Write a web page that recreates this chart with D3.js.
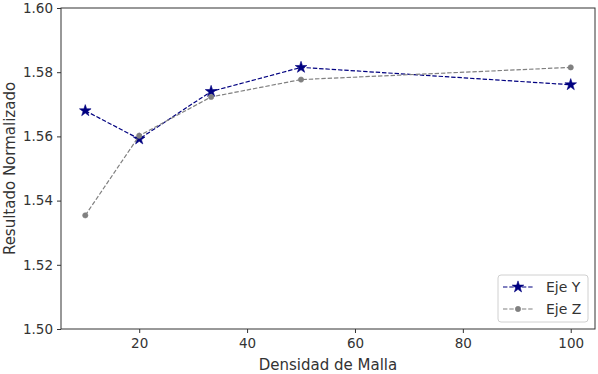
<!DOCTYPE html>
<html><head><meta charset="utf-8">
<script src="https://cdn.jsdelivr.net/npm/d3@7"></script>
<style>body{margin:0;background:#fff}svg{display:block;font-family:"DejaVu Sans",sans-serif}</style>
</head><body>
<svg id="c" width="598" height="374"></svg>
<script>
const densidad = [10, 20, 33.33, 50, 100];
const ejeY = [1.5680, 1.5592, 1.5740, 1.5815, 1.5761];
const ejeZ = [1.5354, 1.5602, 1.5723, 1.5777, 1.5815];
const xTicks = [20, 40, 60, 80, 100];
const yTicks = [1.50, 1.52, 1.54, 1.56, 1.58, 1.60];
const series = [
  {name: "Eje Y", values: ejeY, color: "#000080", marker: "star"},
  {name: "Eje Z", values: ejeZ, color: "#808080", marker: "circle"}
];

const svg = d3.select("#c");
const L = 61, R = 595, T = 8, B = 329;
const x = d3.scaleLinear().domain([5.5, 104.5]).range([L, R]);
const y = d3.scaleLinear().domain([1.50, 1.60]).range([B, T]);
const axisColor = "#333";

const gx = svg.append("g").attr("transform", `translate(0,${B})`)
  .call(d3.axisBottom(x).tickValues(xTicks).tickFormat(d3.format("d")).tickSize(4).tickPadding(4));
const gy = svg.append("g").attr("transform", `translate(${L},0)`)
  .call(d3.axisLeft(y).tickValues(yTicks).tickFormat(d3.format(".2f")).tickSize(4).tickPadding(4));
[gx, gy].forEach(g => {
  g.select(".domain").remove();
  g.selectAll(".tick line").attr("stroke", axisColor).attr("stroke-width", 1);
  g.selectAll(".tick text").attr("fill", axisColor).attr("font-size", 13.5).attr("font-family", "DejaVu Sans");
});
gx.selectAll(".tick text").attr("dy", "0.85em");

svg.append("rect").attr("x", L).attr("y", T).attr("width", R - L).attr("height", B - T)
  .attr("fill", "none").attr("stroke", axisColor).attr("stroke-width", 1);

svg.append("text").attr("x", (L + R) / 2).attr("y", 370).attr("text-anchor", "middle")
  .attr("font-size", 15).attr("fill", axisColor).text("Densidad de Malla");
svg.append("text").attr("transform", `translate(15,${(T + B) / 2}) rotate(-90)`)
  .attr("text-anchor", "middle").attr("font-size", 15).attr("fill", axisColor).text("Resultado Normalizado");

const star = d3.symbol().type(d3.symbolStar).size(42);
const circ = d3.symbol().type(d3.symbolCircle).size(22);
function drawMarker(g, s, cx, cy) {
  g.append("path").attr("d", s.marker === "star" ? star() : circ())
    .attr("transform", `translate(${cx},${cy})`).attr("fill", s.color).attr("stroke", s.color).attr("stroke-width", 0.6);
}

const line = d3.line().x(d => x(d[0])).y(d => y(d[1]));
series.forEach(s => {
  const pts = densidad.map((d, i) => [d, s.values[i]]);
  const g = svg.append("g");
  g.append("path").attr("d", line(pts)).attr("fill", "none").attr("stroke", s.color)
    .attr("stroke-width", 1.2).attr("stroke-dasharray", "4.4,1.9");
  pts.forEach(p => drawMarker(g, s, x(p[0]), y(p[1])));
});

// legend
const lg = svg.append("g");
lg.append("rect").attr("x", 498).attr("y", 275).attr("width", 90).attr("height", 47).attr("rx", 3)
  .attr("fill", "#fff").attr("fill-opacity", 0.8).attr("stroke", "#d0d0d0").attr("stroke-width", 1);
series.forEach((s, i) => {
  const yy = 287 + i * 22;
  lg.append("line").attr("x1", 503).attr("x2", 533).attr("y1", yy).attr("y2", yy)
    .attr("stroke", s.color).attr("stroke-width", 1.2).attr("stroke-dasharray", "4.4,1.9");
  drawMarker(lg, s, 518, yy);
  lg.append("text").attr("x", 546).attr("y", yy).attr("dy", "0.35em").attr("font-size", 14)
    .attr("fill", axisColor).text(s.name);
});
</script>
</body></html>
